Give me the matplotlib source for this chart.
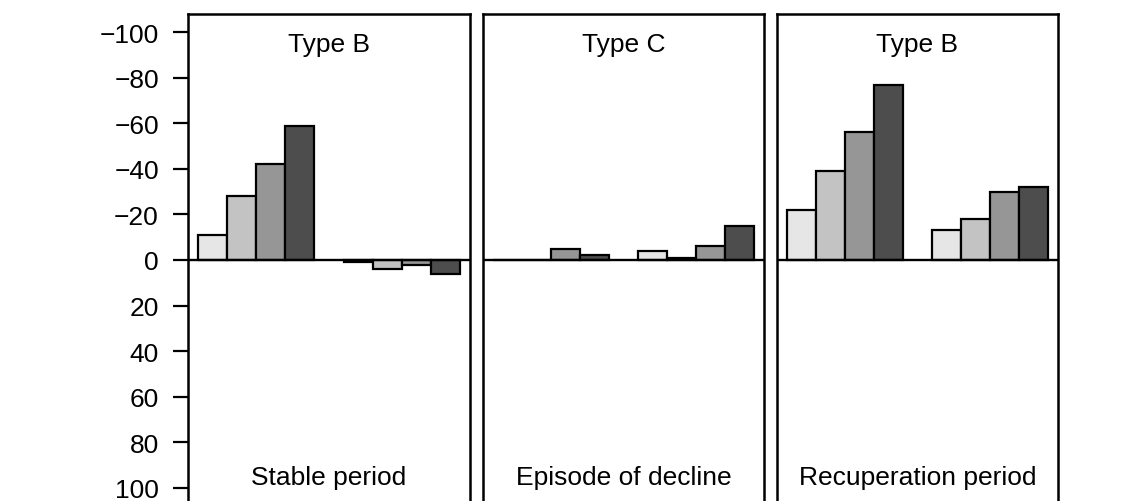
import matplotlib
matplotlib.use("Agg")
import matplotlib.pyplot as plt
import numpy as np

plt.rcParams['font.family'] = ['Liberation Sans', 'DejaVu Sans']

# Data (axis is inverted: negative values point upward)
panel_types = ["Type B", "Type C", "Type B"]
panel_periods = ["Stable period", "Episode of decline", "Recuperation period"]

stable_g1 = [-11, -28, -42, -59]
stable_g2 = [1, 4, 2, 6]
decline_g1 = [0, 0, -5, -2]
decline_g2 = [-4, -1, -6, -15]
recup_g1 = [-22, -39, -56, -77]
recup_g2 = [-13, -18, -30, -32]

yticks = [-100, -80, -60, -40, -20, 0, 20, 40, 60, 80, 100]

groups = [(stable_g1, stable_g2), (decline_g1, decline_g2), (recup_g1, recup_g2)]
colors = ["#E6E6E6", "#C3C3C3", "#969696", "#4D4D4D"]

W, H = 1138, 502
fig = plt.figure(figsize=(W / 100, H / 100), dpi=100)

lefts = [188, 483, 777]
widths = [282, 281, 281]
top_px, bot_px = 15, 507

for i in range(3):
    ax = fig.add_axes([lefts[i] / W, (H - bot_px) / H, widths[i] / W, (bot_px - top_px) / H])
    g1, g2 = groups[i]
    x1 = np.arange(4)
    x2 = np.arange(4) + 5
    ax.bar(x1, g1, width=1, align='edge', color=colors, edgecolor='black', linewidth=1.6, zorder=2)
    ax.bar(x2, g2, width=1, align='edge', color=colors, edgecolor='black', linewidth=1.6, zorder=2)
    ax.axhline(0, color='black', linewidth=1.7, zorder=3)
    ax.set_xlim(-0.36, 9.36)
    ax.set_ylim(108, -108)
    ax.set_xticks([])
    for s in ax.spines.values():
        s.set_linewidth(1.8)
    if i == 0:
        ax.set_yticks(yticks)
        ax.tick_params(axis='y', length=11, width=1.6, pad=10, labelsize=19)
    else:
        ax.set_yticks([])
    ax.text(4.5, -91.7, panel_types[i], ha='center', va='baseline', fontsize=19)
    ax.text(4.5, 98.2, panel_periods[i], ha='center', va='baseline', fontsize=19)

fig.savefig("out.png", dpi=100)
